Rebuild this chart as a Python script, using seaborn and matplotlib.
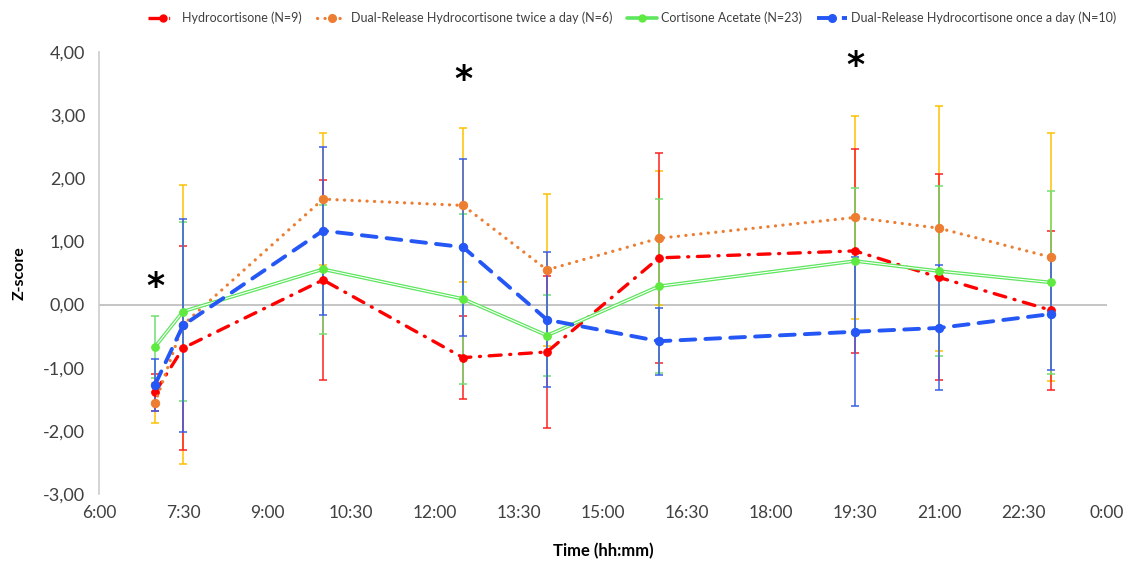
import matplotlib
matplotlib.use("Agg")
import matplotlib.pyplot as plt
from matplotlib.lines import Line2D
import seaborn as sns
import pandas as pd

# ---- data ----
times = [7.0, 7.5, 10.0, 12.5, 14.0, 16.0, 19.5, 21.0, 23.0]
hc = [-1.39, -0.69, 0.39, -0.84, -0.75, 0.74, 0.85, 0.43, -0.09]
hc_sd = [0.29, 1.62, 1.59, 0.66, 1.21, 1.66, 1.62, 1.63, 1.26]
dr2 = [-1.56, -0.32, 1.67, 1.57, 0.55, 1.05, 1.38, 1.21, 0.75]
dr2_sd = [0.32, 2.21, 1.05, 1.22, 1.20, 1.06, 1.61, 1.94, 1.96]
ca = [-0.67, -0.11, 0.56, 0.09, -0.49, 0.29, 0.69, 0.53, 0.35]
ca_sd = [0.49, 1.41, 1.02, 1.34, 0.64, 1.38, 1.16, 1.34, 1.45]
dr1 = [-1.27, -0.33, 1.17, 0.91, -0.24, -0.58, -0.43, -0.37, -0.15]
dr1_sd = [0.41, 1.69, 1.33, 1.40, 1.07, 0.53, 1.18, 0.99, 0.89]
labels = ["Hydrocortisone (N=9)", "Dual-Release Hydrocortisone twice a day (N=6)",
          "Cortisone Acetate (N=23)", "Dual-Release Hydrocortisone once a day (N=10)"]
star_x = [7.0, 12.5, 19.5]
star_y = [0.28, 3.55, 3.78]
xtick_vals = [6, 7.5, 9, 10.5, 12, 13.5, 15, 16.5, 18, 19.5, 21, 22.5, 24]
ytick_vals = [-3, -2, -1, 0, 1, 2, 3, 4]

sns.set_theme(style="white")
plt.rcParams['font.family'] = ['Lato', 'DejaVu Sans']

fig = plt.figure(figsize=(11.29, 5.62), dpi=100)
ax = fig.add_axes([99/1129, 1-494/562, (1107-99)/1129, (494-52)/562])

# error bars (drawn beneath the lines)
eb_specs = [(dr2, dr2_sd, '#FFC000'), (hc, hc_sd, '#FF2020'),
            (ca, ca_sd, '#70E070'), (dr1, dr1_sd, '#3A5FE8')]
for z, (v, sd, c) in enumerate(eb_specs):
    ax.errorbar(times, v, yerr=sd, fmt='none', ecolor=c, elinewidth=1.1,
                capsize=3, capthick=1.1, zorder=2 + z * 0.1)

df = pd.DataFrame({"time": times, "hc": hc, "dr2": dr2, "ca": ca, "dr1": dr1})

# Hydrocortisone: red dash-dot
sns.lineplot(data=df, x="time", y="hc", ax=ax, color='#FF0000', lw=2.4,
             linestyle=(0, (3.6, 2.6, 0.3, 2.6)), dash_capstyle='round',
             marker='o', ms=5.5, mec='#FF0000', mfc='#FF0000', errorbar=None, zorder=4)
# Dual-release twice: orange dotted
sns.lineplot(data=df, x="time", y="dr2", ax=ax, color='#ED7D31', lw=2.3,
             linestyle=(0, (0.05, 2.3)), dash_capstyle='round',
             marker='o', ms=6, mec='#ED7D31', mfc='#ED7D31', errorbar=None, zorder=4)
# Cortisone acetate: green double line
sns.lineplot(data=df, x="time", y="ca", ax=ax, color='#5EE65E', lw=2.6,
             errorbar=None, zorder=4)
sns.lineplot(data=df, x="time", y="ca", ax=ax, color='white', lw=0.8,
             marker='o', ms=5.5, mec='#5EEA3E', mfc='#5EEA3E', errorbar=None, zorder=4.1)
# Dual-release once: blue dashed
sns.lineplot(data=df, x="time", y="dr1", ax=ax, color='#2457F5', lw=2.8,
             linestyle=(0, (3.8, 2.6)), dash_capstyle='round',
             marker='o', ms=6, mec='#2457F5', mfc='#2457F5', errorbar=None, zorder=4.2)

for sx, sy in zip(star_x, star_y):
    ax.text(sx, sy, "*", ha='center', va='center', fontsize=25, fontweight='bold',
            color='black', family='DejaVu Sans')

ax.axhline(0, color='#C0C0C0', lw=1.3, zorder=1)
ax.set_xlim(6, 24)
ax.set_ylim(-3, 4)
ax.set_xticks(xtick_vals)
ax.set_xticklabels([f"{int(t) % 24}:{int(round((t % 1) * 60)):02d}" for t in xtick_vals],
                   fontsize=12.5, color='#404040')
ax.set_yticks(ytick_vals)
ax.set_yticklabels([f"{v:.2f}".replace('.', ',') for v in ytick_vals],
                   fontsize=13, color='#404040')
ax.tick_params(axis='both', length=0)
ax.tick_params(axis='x', pad=8)
ax.tick_params(axis='y', pad=10)
for s in ['top', 'right', 'bottom']:
    ax.spines[s].set_visible(False)
ax.spines['left'].set_color('#C8C8C8')
ax.spines['left'].set_linewidth(1.1)
ax.set_xlabel("Time (hh:mm)", fontsize=12, fontweight='bold', color='black', labelpad=16)
ax.set_ylabel("Z-score", fontsize=11.5, fontweight='bold', color='black', labelpad=12)
ax.grid(False)

handles = [
    Line2D([], [], color='#FF0000', lw=2.4, linestyle=(0, (3.6, 2.6, 0.3, 2.6)),
           marker='o', ms=5, mfc='#FF0000', mec='#FF0000'),
    Line2D([], [], color='#ED7D31', lw=2.3, linestyle=(0, (0.05, 2.3)), dash_capstyle='round',
           marker='o', ms=5.5, mfc='#ED7D31', mec='#ED7D31'),
    Line2D([], [], color='#5EE65E', lw=2.6, marker='o', ms=5, mfc='#5EEA3E', mec='#5EEA3E'),
    Line2D([], [], color='#2457F5', lw=2.8, linestyle=(0, (3.8, 2.6)),
           marker='o', ms=5.5, mfc='#2457F5', mec='#2457F5'),
]
fig.legend(handles, labels, loc='center', bbox_to_anchor=(0.56, 0.968), ncol=4,
           frameon=False, fontsize=9, handlelength=2.4, columnspacing=1.2,
           handletextpad=0.3, labelcolor='#404040')

fig.savefig("out.png", dpi=100)
